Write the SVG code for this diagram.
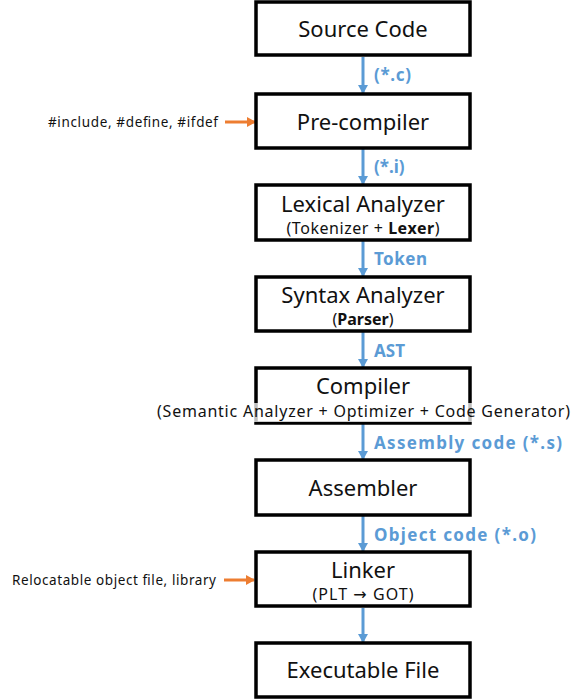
<svg xmlns="http://www.w3.org/2000/svg" width="581" height="700" viewBox="0 0 581 700">
<style>
.box{fill:#fff;stroke:#000;stroke-width:3.5}
.t{font-family:"Noto Sans","Open Sans",sans-serif;font-size:22px;fill:#111;text-anchor:middle}
.s{font-family:"Noto Sans","Open Sans",sans-serif;font-size:16px;fill:#111;text-anchor:middle}
.b{font-weight:bold}
.lbl{font-family:"Noto Sans","Open Sans",sans-serif;font-size:17px;font-weight:bold;fill:#5B9BD5}
.side{font-family:"Noto Sans","Open Sans",sans-serif;font-size:13.5px;fill:#111}
.arr{font-family:"DejaVu Sans",sans-serif}
.flow{stroke:#5B9BD5;stroke-width:3;fill:none}
.inp{stroke:#ED7D31;stroke-width:3;fill:none}
</style>
<defs>
<marker id="ab" markerWidth="10" markerHeight="10" refX="8" refY="5" orient="auto" markerUnits="userSpaceOnUse"><path d="M0,0 L9,5 L0,10 Z" fill="#5B9BD5"/></marker>
<marker id="ao" markerWidth="10" markerHeight="10" refX="8" refY="5" orient="auto" markerUnits="userSpaceOnUse"><path d="M0,0 L9,5 L0,10 Z" fill="#ED7D31"/></marker>
</defs>
<rect width="581" height="700" fill="#fff"/>
<g id="connectors">
<line class="flow" x1="363" y1="57" x2="363" y2="93" marker-end="url(#ab)"/>
<line class="flow" x1="363" y1="149" x2="363" y2="184" marker-end="url(#ab)"/>
<line class="flow" x1="363" y1="241" x2="363" y2="276" marker-end="url(#ab)"/>
<line class="flow" x1="363" y1="332" x2="363" y2="367" marker-end="url(#ab)"/>
<line class="flow" x1="363" y1="424" x2="363" y2="459" marker-end="url(#ab)"/>
<line class="flow" x1="363" y1="516" x2="363" y2="551" marker-end="url(#ab)"/>
<line class="flow" x1="363" y1="608" x2="363" y2="642" marker-end="url(#ab)"/>
<line class="inp" x1="225" y1="122" x2="255" y2="122" marker-end="url(#ao)"/>
<line class="inp" x1="224" y1="580" x2="254" y2="580" marker-end="url(#ao)"/>
<text class="lbl" x="374" y="81" textLength="37" lengthAdjust="spacing">(*.c)</text>
<text class="lbl" x="374" y="173">(*.i)</text>
<text class="lbl" x="374" y="265" textLength="53" lengthAdjust="spacing">Token</text>
<text class="lbl" x="374" y="357">AST</text>
<text class="lbl" x="374" y="449" textLength="188" lengthAdjust="spacing">Assembly code (*.s)</text>
<text class="lbl" x="374" y="541" textLength="162" lengthAdjust="spacing">Object code (*.o)</text>
<text class="side" x="48" y="127" textLength="170" lengthAdjust="spacing">#include, #define, #ifdef</text>
<text class="side" x="12" y="585" textLength="204" lengthAdjust="spacing">Relocatable object file, library</text>
</g>
<g id="source-code">
<rect class="box" x="256" y="2" width="214" height="53"/>
<text class="t" x="363" y="37">Source Code</text>
</g>
<g id="pre-compiler">
<rect class="box" x="256" y="94" width="214" height="54"/>
<text class="t" x="363" y="130">Pre-compiler</text>
</g>
<g id="lexical-analyzer">
<rect class="box" x="256" y="185" width="214" height="55"/>
<text class="t" x="363" y="212">Lexical Analyzer</text>
<text class="s" x="363" y="234" textLength="153" lengthAdjust="spacing">(Tokenizer + <tspan class="b">Lexer</tspan>)</text>
</g>
<g id="syntax-analyzer">
<rect class="box" x="256" y="277" width="214" height="54"/>
<text class="t" x="363" y="303">Syntax Analyzer</text>
<text class="s" x="363" y="325">(<tspan class="b">Parser</tspan>)</text>
</g>
<g id="compiler">
<rect class="box" x="256" y="368" width="214" height="55"/>
<rect x="157" y="403" width="413" height="19" fill="#fff" fill-opacity="0.75"/>
<text class="t" x="363" y="394">Compiler</text>
<text class="s" x="363.5" y="417" textLength="413" lengthAdjust="spacing">(Semantic Analyzer + Optimizer + Code Generator)</text>
</g>
<g id="assembler">
<rect class="box" x="256" y="460" width="214" height="55"/>
<text class="t" x="363" y="496">Assembler</text>
</g>
<g id="linker">
<rect class="box" x="256" y="552" width="214" height="54"/>
<text class="t" x="363" y="578">Linker</text>
<text class="s" x="363" y="600" textLength="101" lengthAdjust="spacing">(PLT <tspan class="arr">→</tspan> GOT)</text>
</g>
<g id="executable-file">
<rect class="box" x="256" y="643" width="214" height="54"/>
<text class="t" x="363" y="678">Executable File</text>
</g>
</svg>
